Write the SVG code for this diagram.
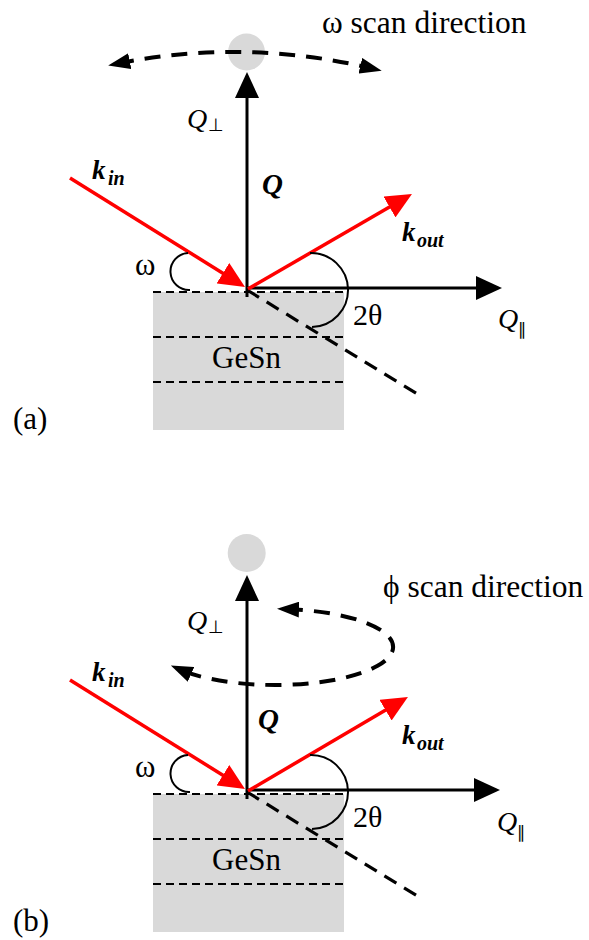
<svg xmlns="http://www.w3.org/2000/svg" width="589" height="940" viewBox="0 0 589 940">
<style>
.ax{stroke:#000;stroke-width:3;fill:none}
.red{stroke:#ff0000;stroke-width:3.5;fill:none}
.dsurf{stroke:#000;stroke-width:2.2;stroke-dasharray:8 5;fill:none}
.dext{stroke:#000;stroke-width:3.2;stroke-dasharray:14 9;fill:none}
.scan{stroke:#000;stroke-width:4;stroke-dasharray:16 11;fill:none}
.ang{stroke:#000;stroke-width:2;fill:none}
.grey{fill:#d9d9d9;stroke:none}
.t{font-family:"Liberation Serif","DejaVu Serif",serif;fill:#000}
.sym{font-family:"DejaVu Sans",sans-serif;fill:#000}
.bi{font-weight:bold;font-style:italic}
.it{font-style:italic}
</style>
<defs>
<marker id="ah" viewBox="0 0 26 24" refX="16" refY="12" markerWidth="26" markerHeight="24" markerUnits="userSpaceOnUse" orient="auto-start-reverse"><path d="M0,0 L26,12 L0,24 z" fill="#000"/></marker>
<marker id="ahr" viewBox="0 0 26 24" refX="16" refY="12" markerWidth="26" markerHeight="24" markerUnits="userSpaceOnUse" orient="auto-start-reverse"><path d="M0,0 L26,12 L0,24 z" fill="#ff0000"/></marker>
<marker id="ahs" viewBox="0 0 22 16" refX="12" refY="8" markerWidth="22" markerHeight="16" markerUnits="userSpaceOnUse" orient="auto-start-reverse"><path d="M0,0 L22,8 L0,16 z" fill="#000"/></marker>
</defs>

<!-- Panel (a) -->
<g id="a-sample">
<rect class="grey" x="153" y="292" width="191" height="138"/>
<line class="dsurf" x1="153" y1="292" x2="347" y2="292"/>
<line class="dsurf" x1="153" y1="337" x2="347" y2="337"/>
<line class="dsurf" x1="153" y1="382" x2="347" y2="382"/>
<text class="t" x="212" y="368" font-size="31">GeSn</text>
</g>
<g id="a-spot"><circle class="grey" cx="246.5" cy="52" r="18.5"/></g>
<g id="a-connectors">
<line class="ax" x1="247" y1="297" x2="247" y2="82" marker-end="url(#ah)"/>
<line class="ax" x1="247" y1="288" x2="492" y2="288" marker-end="url(#ah)"/>
<line class="dext" x1="247" y1="290" x2="419" y2="395"/>
<line class="red" x1="70" y1="178" x2="236.5" y2="281.7" marker-end="url(#ahr)"/>
<line class="red" x1="248" y1="289" x2="403.3" y2="199" marker-end="url(#ahr)"/>
<path class="scan" d="M118,63.5 Q245,38 372,68.5" marker-start="url(#ahs)" marker-end="url(#ahs)"/>
<path class="ang" d="M190,290 A18.5,18.5 0 0 1 188,253"/>
<path class="ang" d="M310,253 A37,37 0 0 1 312,327"/>
</g>
<g id="a-labels">
<text class="t" x="322" y="33" font-size="31.5">ω scan direction</text>
<text class="t it" x="187" y="128" font-size="28">Q</text><text class="sym" x="208" y="131" font-size="18">⊥</text>
<text class="t bi" x="92" y="179" font-size="27">k</text><text class="t bi" x="108" y="185" font-size="20">in</text>
<text class="t bi" x="262" y="194" font-size="29">Q</text>
<text class="t bi" x="402" y="241" font-size="27">k</text><text class="t bi" x="417" y="247" font-size="20">out</text>
<text class="t" x="135" y="275" font-size="31">ω</text>
<text class="t" x="353" y="325" font-size="30">2θ</text>
<text class="t it" x="498" y="328" font-size="28">Q</text><text class="sym" x="518" y="335" font-size="17">∥</text>
<text class="t" x="13" y="429" font-size="31">(a)</text>
</g>

<!-- Panel (b) -->
<g id="b-sample" transform="translate(0,502)">
<rect class="grey" x="153" y="292" width="191" height="138"/>
<line class="dsurf" x1="153" y1="292" x2="347" y2="292"/>
<line class="dsurf" x1="153" y1="337" x2="347" y2="337"/>
<line class="dsurf" x1="153" y1="382" x2="347" y2="382"/>
<text class="t" x="212" y="368" font-size="31">GeSn</text>
</g>
<g id="b-spot"><circle class="grey" cx="246.7" cy="553" r="19"/></g>
<g id="b-connectors">
<line class="ax" x1="247" y1="799" x2="247" y2="585" marker-end="url(#ah)"/>
<line class="ax" x1="247" y1="790" x2="490" y2="790" marker-end="url(#ah)"/>
<line class="dext" x1="247" y1="792" x2="419" y2="897"/>
<line class="red" x1="70" y1="680" x2="236.5" y2="783.7" marker-end="url(#ahr)"/>
<line class="red" x1="248" y1="791" x2="399.3" y2="702" marker-end="url(#ahr)"/>
<path class="scan" d="M287,609.2 A118,38 0 1 1 180,669.5" marker-start="url(#ahs)" marker-end="url(#ahs)"/>
<path class="ang" d="M190,792 A18.5,18.5 0 0 1 188,755"/>
<path class="ang" d="M310,755 A37,37 0 0 1 312,829"/>
</g>
<g id="b-labels">
<text class="t" x="383" y="597" font-size="31.5">ϕ scan direction</text>
<text class="t it" x="187" y="630" font-size="28">Q</text><text class="sym" x="208" y="633" font-size="18">⊥</text>
<text class="t bi" x="92" y="681" font-size="27">k</text><text class="t bi" x="108" y="687" font-size="20">in</text>
<text class="t bi" x="258" y="729" font-size="29">Q</text>
<text class="t bi" x="402" y="744" font-size="27">k</text><text class="t bi" x="417" y="750" font-size="20">out</text>
<text class="t" x="135" y="777" font-size="31">ω</text>
<text class="t" x="353" y="827" font-size="30">2θ</text>
<text class="t it" x="497" y="831" font-size="28">Q</text><text class="sym" x="517" y="838" font-size="17">∥</text>
<text class="t" x="13" y="931" font-size="31">(b)</text>
</g>
</svg>
